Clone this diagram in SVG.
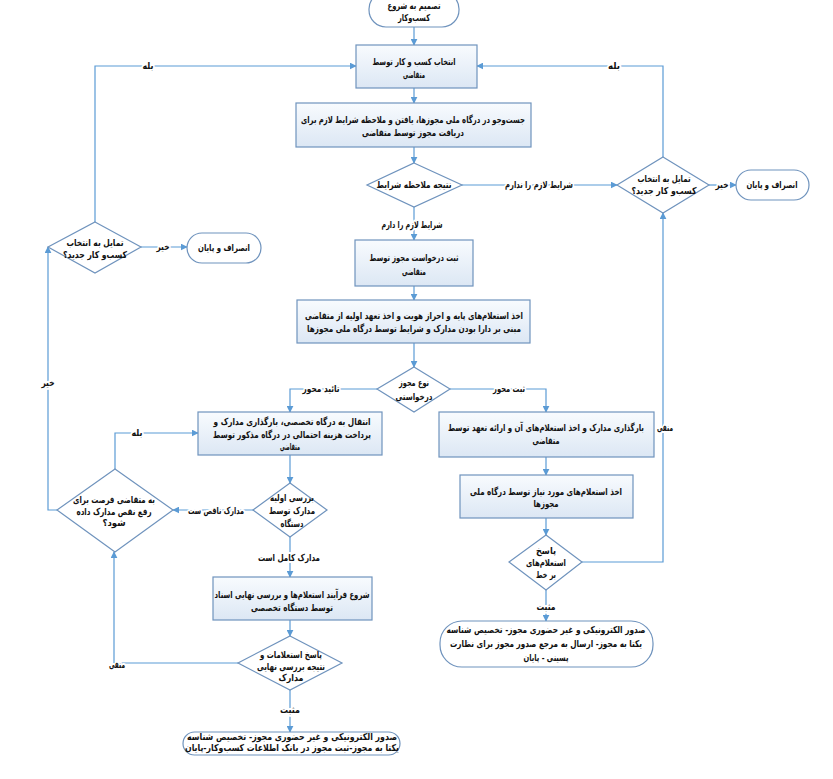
<svg xmlns="http://www.w3.org/2000/svg" width="833" height="779" viewBox="0 0 833 779">
<defs>
<linearGradient id="bg" x1="0" y1="0" x2="0" y2="1">
<stop offset="0" stop-color="#f8fbfe"/>
<stop offset="1" stop-color="#dce7f4"/>
</linearGradient>
<marker id="ah" viewBox="0 0 10 10" refX="9" refY="5" markerWidth="7" markerHeight="7" orient="auto" markerUnits="userSpaceOnUse">
<path d="M0,0 L10,5 L0,10 z" fill="#5b9bd5"/>
</marker>
</defs>
<style>
text{font-family:"DejaVu Sans",sans-serif;font-size:9.5px;font-weight:bold;fill:#111;text-anchor:middle;dominant-baseline:middle;direction:rtl}
.box{fill:url(#bg);stroke:#6f93bd;stroke-width:1.2}
.dec,.term{fill:#fff;stroke:#6f93bd;stroke-width:1.2}
.ca{fill:none;stroke:#5b9bd5;stroke-width:1.2;marker-end:url(#ah)}
.lbl{paint-order:stroke;stroke:#fff;stroke-width:4px;stroke-linejoin:round}
</style>
<rect width="833" height="779" fill="#fff"/>
<g id="connectors">
<path class="ca" d="M414,27 V45"/>
<path class="ca" d="M414,88 V103"/>
<path class="ca" d="M414,147 V163"/>
<path class="ca" d="M462,185 H617"/>
<path class="ca" d="M414,207 V240"/>
<path class="ca" d="M663,157 V66 H477"/>
<path class="ca" d="M709,185 H736"/>
<path class="ca" d="M414,286 V300"/>
<path class="ca" d="M414,343 V367"/>
<path class="ca" d="M377,389 H290 V412"/>
<path class="ca" d="M450,389 H546 V412"/>
<path class="ca" d="M290,455 V483"/>
<path class="ca" d="M253,510 H173"/>
<path class="ca" d="M290,537 V577"/>
<path class="ca" d="M290,620 V636"/>
<path class="ca" d="M290,690 V732"/>
<path class="ca" d="M238,663 H114 V552"/>
<path class="ca" d="M115,469 V433 H198"/>
<path class="ca" d="M57,510 H48 V247"/>
<path class="ca" d="M95,222 V66 H356"/>
<path class="ca" d="M141,247 H187"/>
<path class="ca" d="M546,457 V475"/>
<path class="ca" d="M546,518 V535"/>
<path class="ca" d="M582,562 H663 V213"/>
<path class="ca" d="M546,590 V621"/>
<text class="lbl" x="539" y="185" textLength="68" lengthAdjust="spacingAndGlyphs">شرایط لازم را ندارم</text>
<text class="lbl" x="412" y="225" textLength="61" lengthAdjust="spacingAndGlyphs">شرایط لازم را دارم</text>
<text class="lbl" x="614" y="66" textLength="12" lengthAdjust="spacingAndGlyphs">بله</text>
<text class="lbl" x="722" y="185" textLength="13" lengthAdjust="spacingAndGlyphs">خیر</text>
<text class="lbl" x="321" y="389" textLength="37" lengthAdjust="spacingAndGlyphs">تائید محور</text>
<text class="lbl" x="509" y="389" textLength="32" lengthAdjust="spacingAndGlyphs">ثبت محور</text>
<text class="lbl" x="216" y="511" textLength="56" lengthAdjust="spacingAndGlyphs">مدارک ناقص ست</text>
<text class="lbl" x="289" y="558" textLength="62" lengthAdjust="spacingAndGlyphs">مدارک کامل است</text>
<text class="lbl" x="290" y="710" textLength="20" lengthAdjust="spacingAndGlyphs">مثبت</text>
<text class="lbl" x="117" y="665" textLength="16" lengthAdjust="spacingAndGlyphs">منفی</text>
<text class="lbl" x="137" y="433" textLength="11" lengthAdjust="spacingAndGlyphs">بله</text>
<text class="lbl" x="48" y="383" textLength="13" lengthAdjust="spacingAndGlyphs">خیر</text>
<text class="lbl" x="148" y="66" textLength="11" lengthAdjust="spacingAndGlyphs">بله</text>
<text class="lbl" x="163" y="247" textLength="13" lengthAdjust="spacingAndGlyphs">خیر</text>
<text class="lbl" x="665" y="428" font-size="7" textLength="16" lengthAdjust="spacingAndGlyphs">منفی</text>
<text class="lbl" x="546" y="607" textLength="19" lengthAdjust="spacingAndGlyphs">مثبت</text>
</g>
<g id="start"><rect class="term" x="369" y="-8" width="90" height="35" rx="17"/><text x="414" y="6" textLength="53" lengthAdjust="spacingAndGlyphs">تصمیم به شروع</text><text x="414" y="18" textLength="32" lengthAdjust="spacingAndGlyphs">کسب‌وکار</text></g>
<g id="b1"><rect class="box" x="356" y="45" width="121" height="43"/><text x="414" y="62" textLength="83" lengthAdjust="spacingAndGlyphs">انتخاب کسب و کار توسط</text><text x="414" y="75" textLength="22" lengthAdjust="spacingAndGlyphs">متقاضی</text></g>
<g id="b2"><rect class="box" x="296" y="103" width="235" height="44"/><text x="413" y="120" textLength="224" lengthAdjust="spacingAndGlyphs">جست‌وجو در درگاه ملی مجوزها، یافتن و ملاحظه شرایط لازم برای</text><text x="413" y="133" textLength="102" lengthAdjust="spacingAndGlyphs">دریافت مجوز توسط متقاضی</text></g>
<g id="d1"><polygon class="dec" points="414,163 462,185 414,207 367,185"/><text x="414" y="185" textLength="75" lengthAdjust="spacingAndGlyphs">نتیجه ملاحظه شرایط</text></g>
<g id="dR"><polygon class="dec" points="663,157 709,185 663,213 617,185"/><text x="664" y="179" textLength="53" lengthAdjust="spacingAndGlyphs">تمایل به انتخاب</text><text x="664" y="191" textLength="65" lengthAdjust="spacingAndGlyphs">کسب‌و کار جدید؟</text></g>
<g id="tR"><rect class="term" x="736" y="170" width="73" height="30" rx="15"/><text x="772" y="185" textLength="51" lengthAdjust="spacingAndGlyphs">انصراف و پایان</text></g>
<g id="dL"><polygon class="dec" points="95,222 141,247 95,273 48,247"/><text x="95" y="243" textLength="57" lengthAdjust="spacingAndGlyphs">تمایل به انتخاب</text><text x="95" y="255" textLength="64" lengthAdjust="spacingAndGlyphs">کسب‌و کار جدید؟</text></g>
<g id="tL"><rect class="term" x="187" y="233" width="74" height="30" rx="15"/><text x="224" y="248" textLength="52" lengthAdjust="spacingAndGlyphs">انصراف و پایان</text></g>
<g id="b3"><rect class="box" x="355" y="240" width="118" height="46"/><text x="414" y="258" textLength="89" lengthAdjust="spacingAndGlyphs">ثبت درخواست مجوز توسط</text><text x="414" y="272" textLength="24" lengthAdjust="spacingAndGlyphs">متقاضی</text></g>
<g id="b4"><rect class="box" x="297" y="300" width="233" height="43"/><text x="414" y="316" textLength="218" lengthAdjust="spacingAndGlyphs">اخذ استعلام‌های پایه و احراز هویت و اخذ تعهد اولیه از متقاضی</text><text x="414" y="329" textLength="214" lengthAdjust="spacingAndGlyphs">مبنی بر دارا بودن مدارک و شرایط توسط درگاه ملی مجوزها</text></g>
<g id="d2"><polygon class="dec" points="414,367 450,389 414,412 377,389"/><text x="414" y="383" textLength="30" lengthAdjust="spacingAndGlyphs">نوع مجوز</text><text x="414" y="397" textLength="37" lengthAdjust="spacingAndGlyphs">درخواستی</text></g>
<g id="b5"><rect class="box" x="198" y="412" width="184" height="43"/><text x="292" y="422" textLength="157" lengthAdjust="spacingAndGlyphs">انتقال به درگاه تخصصی، بارگذاری مدارک و</text><text x="292" y="435" textLength="158" lengthAdjust="spacingAndGlyphs">پرداخت هزینه احتمالی در درگاه مذکور توسط</text><text x="290" y="447" textLength="20" lengthAdjust="spacingAndGlyphs">متقاضی</text></g>
<g id="d3"><polygon class="dec" points="290,483 327,510 290,537 253,510"/><text x="292" y="498" textLength="44" lengthAdjust="spacingAndGlyphs">بررسی اولیه</text><text x="292" y="511" textLength="46" lengthAdjust="spacingAndGlyphs">مدارک توسط</text><text x="292" y="524" textLength="23" lengthAdjust="spacingAndGlyphs">دستگاه</text></g>
<g id="dLL"><polygon class="dec" points="115,469 173,510 115,552 57,510"/><text x="114" y="500" textLength="82" lengthAdjust="spacingAndGlyphs">به متقاضی فرصت برای</text><text x="114" y="512" textLength="75" lengthAdjust="spacingAndGlyphs">رفع نقص مدارک داده</text><text x="114" y="523" textLength="23" lengthAdjust="spacingAndGlyphs">شود؟</text></g>
<g id="b7"><rect class="box" x="213" y="577" width="159" height="43"/><text x="292" y="595" textLength="155" lengthAdjust="spacingAndGlyphs">شروع فرآیند استعلام‌ها و بررسی نهایی اسناد</text><text x="292" y="608" textLength="82" lengthAdjust="spacingAndGlyphs">توسط دستگاه تخصصی</text></g>
<g id="d4"><polygon class="dec" points="290,636 342,663 290,690 238,663"/><text x="291" y="655" textLength="62" lengthAdjust="spacingAndGlyphs">پاسخ استعلامات و</text><text x="291" y="667" textLength="68" lengthAdjust="spacingAndGlyphs">نتیجه بررسی نهایی</text><text x="291" y="678" textLength="25" lengthAdjust="spacingAndGlyphs">مدارک</text></g>
<g id="tF"><rect class="term" x="183" y="732" width="217" height="23" rx="11.5"/><text x="292" y="737" textLength="210" lengthAdjust="spacingAndGlyphs">صدور الکترونیکی و غیر حضوری مجوز- تخصیص شناسه</text><text x="292" y="748" textLength="214" lengthAdjust="spacingAndGlyphs">یکتا به مجوز-ثبت مجوز در بانک اطلاعات کسب‌وکار-پایان</text></g>
<g id="b6"><rect class="box" x="439" y="412" width="215" height="45"/><text x="546" y="428" font-size="7.5" textLength="196" lengthAdjust="spacingAndGlyphs">بارگذاری مدارک و اخذ استعلام‌های آن و ارائه تعهد توسط</text><text x="546" y="441" textLength="27" lengthAdjust="spacingAndGlyphs">متقاضی</text></g>
<g id="b8"><rect class="box" x="460" y="475" width="173" height="43"/><text x="546" y="492" textLength="152" lengthAdjust="spacingAndGlyphs">اخذ استعلام‌های مورد نیاز توسط درگاه ملی</text><text x="546" y="504" textLength="25" lengthAdjust="spacingAndGlyphs">مجوزها</text></g>
<g id="d5"><polygon class="dec" points="546,535 582,562 546,590 509,562"/><text x="546" y="551" textLength="20" lengthAdjust="spacingAndGlyphs">پاسخ</text><text x="546" y="563" textLength="40" lengthAdjust="spacingAndGlyphs">استعلام‌های</text><text x="546" y="575" textLength="20" lengthAdjust="spacingAndGlyphs">بر خط</text></g>
<g id="tF2"><rect class="term" x="440" y="621" width="213" height="46" rx="22"/><text x="546" y="630" textLength="199" lengthAdjust="spacingAndGlyphs">صدور الکترونیکی و غیر حضوری مجوز- تخصیص شناسه</text><text x="546" y="644" textLength="192" lengthAdjust="spacingAndGlyphs">یکتا به مجوز- ارسال به مرجع صدور مجوز برای نظارت</text><text x="546" y="658" textLength="45" lengthAdjust="spacingAndGlyphs">پسینی - پایان</text></g>
</svg>
